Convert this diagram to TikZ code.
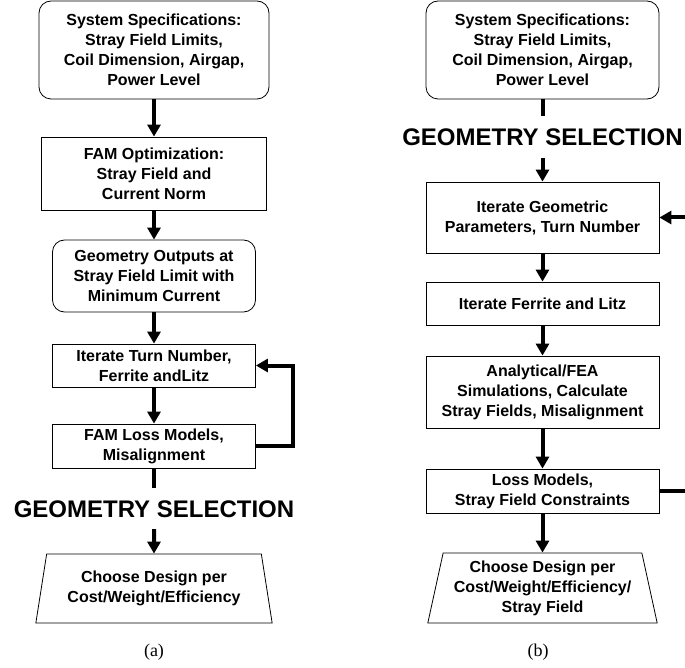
\documentclass[tikz,border=0pt]{standalone}
\usepackage{fontspec}
\setmainfont{Liberation Sans}
\newfontfamily\capfont{Liberation Serif}
\usetikzlibrary{arrows.meta,shapes.geometric}

\begin{document}
\begin{tikzpicture}[x=1pt,y=-1pt,
    box/.style={draw,line width=0.8pt,align=center,inner sep=0pt,font=\bfseries\fontsize{16}{20}\selectfont},
    rbox/.style={box,rounded corners=12pt},
    trap/.style={box,trapezium,trapezium stretches=true,trapezium left angle=76,trapezium right angle=76},
    flow/.style={line width=4pt,-{Triangle[width=13pt,length=12pt]}},
    stub/.style={line width=4pt},
    sel/.style={font=\bfseries\fontsize{24}{28}\selectfont,text height=17pt,text depth=0pt,inner xsep=0pt,inner ysep=12pt},
    captext/.style={font=\capfont\fontsize{18}{20}\selectfont}]
    \clip (0,0) rectangle (685,668);

    % (a) FAM based flow
    \node[rbox,minimum width=230pt,minimum height=98pt] (spa) at (154,50) {System Specifications:\\ Stray Field Limits,\\ Coil Dimension, Airgap,\\ Power Level};
    \node[box,minimum width=225pt,minimum height=73pt] (fama) at (154,173.5) {FAM Optimization:\\ Stray Field and\\ Current Norm};
    \node[rbox,minimum width=203pt,minimum height=72pt] (geoa) at (154,276) {Geometry Outputs at\\ Stray Field Limit with\\ Minimum Current};
    \node[box,minimum width=203pt,minimum height=43pt] (itera) at (154,365.5) {Iterate Turn Number,\\ Ferrite andLitz};
    \node[box,minimum width=203pt,minimum height=44pt] (lossa) at (154,446) {FAM Loss Models,\\ Misalignment};
    \node[sel] (sela) at (154,508.5) {GEOMETRY SELECTION};
    \node[trap,minimum width=237pt,minimum height=69pt] (choosea) at (154,588.5) {Choose Design per\\ Cost/Weight/Efficiency};
    \node[captext] (capa) at (154,652) {(a)};

    \draw[flow] (spa) -- (fama);
    \draw[flow] (fama) -- (geoa);
    \draw[flow] (geoa) -- (itera);
    \draw[flow] (itera) -- (lossa);
    \coordinate (fba) at (293,446);
    \draw[flow] (lossa.east) -- (fba) |- (itera.east);
    \draw[stub] (lossa.south) -- (sela.north);
    \draw[flow] (sela.south) -- (choosea.north);

    % (b) simulation based flow
    \node[rbox,minimum width=233pt,minimum height=98pt] (spb) at (542.5,50) {System Specifications:\\ Stray Field Limits,\\ Coil Dimension, Airgap,\\ Power Level};
    \node[sel] (selb) at (542.5,137) {GEOMETRY SELECTION};
    \node[box,minimum width=233pt,minimum height=71pt] (iterb) at (542.5,217.5) {Iterate Geometric\\ Parameters, Turn Number};
    \node[box,minimum width=233pt,minimum height=43pt] (ferb) at (542.5,303.5) {Iterate Ferrite and Litz};
    \node[box,minimum width=233pt,minimum height=72pt] (anab) at (542.5,392) {Analytical/FEA\\ Simulations, Calculate\\ Stray Fields, Misalignment};
    \node[box,minimum width=233pt,minimum height=44pt] (lossb) at (542.5,491) {Loss Models,\\ Stray Field Constraints};
    \node[trap,minimum width=230pt,minimum height=70pt] (chooseb) at (542.5,588) {Choose Design per\\ Cost/Weight/Efficiency/\\ Stray Field};
    \node[captext] (capb) at (538,652) {(b)};

    \draw[stub] (spb.south) -- (selb.north);
    \draw[flow] (selb.south) -- (iterb.north);
    \draw[flow] (iterb) -- (ferb);
    \draw[flow] (ferb) -- (anab);
    \draw[flow] (anab) -- (lossb);
    \draw[flow] (lossb) -- (chooseb);
    \coordinate (fbb) at (692,491);
    \draw[flow] (lossb.east) -- (fbb) |- (iterb.east);
\end{tikzpicture}
\end{document}
